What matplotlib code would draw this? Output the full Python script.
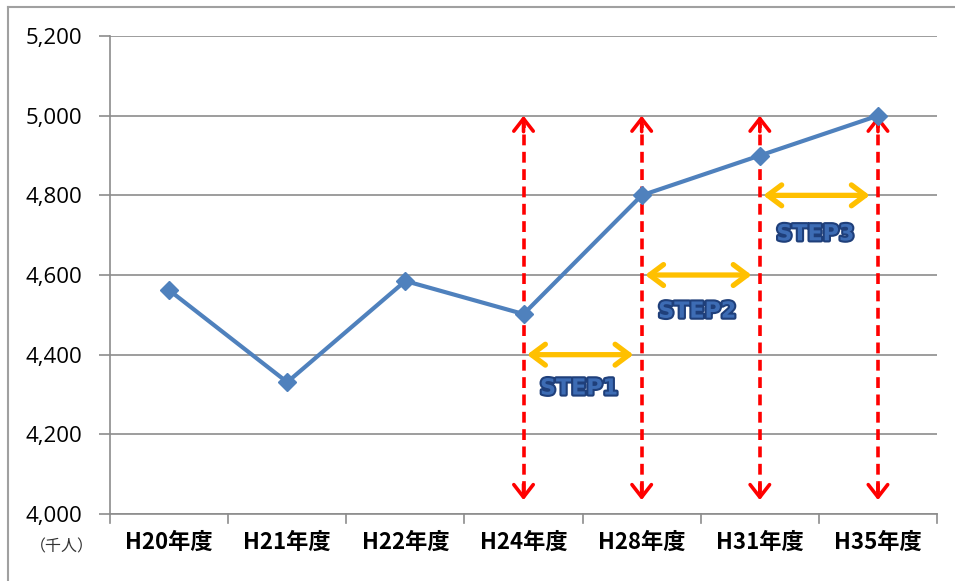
import matplotlib.pyplot as plt
import matplotlib.patheffects as pe
from matplotlib.lines import Line2D

plt.rcParams['font.family'] = ['Noto Sans CJK JP', 'DejaVu Sans']

# data
years = ['H20年度', 'H21年度', 'H22年度', 'H24年度', 'H28年度', 'H31年度', 'H35年度']
users = [4562, 4331, 4585, 4502, 4800, 4900, 5000]
yticks = [4000, 4200, 4400, 4600, 4800, 5000, 5200]
marker_years = ['H24年度', 'H28年度', 'H31年度', 'H35年度']
step_labels = ['STEP1', 'STEP2', 'STEP3']
step_levels = [4400, 4600, 4800]
step_text_levels = [4315, 4508, 4702]

lineColor = '#4f81bd'
gridColor = '#8c8c8c'

fig = plt.figure(figsize=(9.55, 5.81), dpi=100, facecolor='white')
ax = fig.add_axes([0.1152, 0.1153, 0.866, 0.8227])

xs = list(range(len(years)))
ax.plot(xs, users, color=lineColor, linewidth=3.0, marker='D', markersize=9.5,
        markerfacecolor=lineColor, markeredgecolor=lineColor, zorder=4)

ax.set_xlim(-0.5, len(years) - 0.5)
ax.set_ylim(yticks[0], yticks[-1])
ax.set_yticks(yticks)
ax.set_yticklabels(['{:,}'.format(v) for v in yticks], fontsize=16, family=['Open Sans'],
                   color='black')
ax.set_xticks(xs)
ax.set_xticklabels(years, fontsize=16, fontweight='bold')
ax.tick_params(axis='x', length=0, pad=12)
ax.tick_params(axis='y', length=8, width=1.2, color=gridColor, pad=12, direction='out')

# category boundary ticks
for b in [i - 0.5 for i in range(len(years) + 1)]:
    ax.plot([b, b], [0, -0.018], transform=ax.get_xaxis_transform(), color=gridColor,
            linewidth=1.2, clip_on=False)

ax.grid(axis='y', color=gridColor, linewidth=1.2)
ax.set_axisbelow(True)
for s in ['top', 'right']:
    ax.spines[s].set_visible(False)
ax.spines['left'].set_color(gridColor)
ax.spines['bottom'].set_color(gridColor)
ax.spines['left'].set_linewidth(1.2)
ax.spines['bottom'].set_linewidth(1.2)

# red dashed double arrows
top = 5000
bottom = 4035
for name in marker_years:
    x = years.index(name)
    ax.plot([x, x], [bottom + 20, top - 20], color='red', linewidth=2.6,
            linestyle=(0, (3, 1.8)), zorder=3)
    for tip, tail in [(top, top - 40), (bottom, bottom + 40)]:
        ax.annotate('', xy=(x, tip), xytext=(x, tail),
                    arrowprops=dict(arrowstyle='->,head_length=0.9,head_width=0.7',
                                    color='red', lw=2.6, shrinkA=0, shrinkB=0), zorder=3)

# gold STEP arrows
for i, (label, lev, tlev) in enumerate(zip(step_labels, step_levels, step_text_levels)):
    x0 = years.index(marker_years[i])
    ax.annotate('', xy=(x0 + 0.93, lev), xytext=(x0 + 0.03, lev),
                arrowprops=dict(arrowstyle='<->,head_length=1.0,head_width=0.75',
                                color='#ffc000', lw=3.8, shrinkA=0, shrinkB=0), zorder=5)
    ax.text(x0 + 0.47, tlev, label, ha='center', va='center', fontsize=16,
            fontweight='bold', family=['DejaVu Sans'], color='#3d6cb4', zorder=6,
            path_effects=[pe.withStroke(linewidth=3, foreground='#1f3f7a')])

fig.text(0.065, 0.058, '（千人）', fontsize=11.5, ha='center', va='center', color='#333333')

# outer frame on top and left
fig.add_artist(Line2D([0.008, 1.0], [0.988, 0.988], color='#a0a0a0', linewidth=1.5))
fig.add_artist(Line2D([0.008, 0.008], [0.0, 0.988], color='#a0a0a0', linewidth=1.5))

fig.savefig('out.png', dpi=100)
